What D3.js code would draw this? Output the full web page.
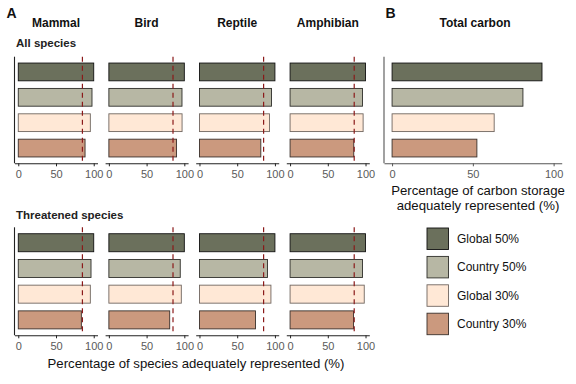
<!DOCTYPE html>
<html lang="en">
<head>
<meta charset="utf-8">
<title>Species and carbon representation</title>
<script src="https://cdn.jsdelivr.net/npm/d3@7"></script>
<style>
  body { margin: 0; background: #fff; }
  text { font-family: "Liberation Sans", Arial, sans-serif; }
</style>
</head>
<body>
<script>
// categories
var taxa = ["Mammal", "Bird", "Reptile", "Amphibian"];
var scenarios = ["Global 50%", "Country 50%", "Global 30%", "Country 30%"];
var groups = ["All species", "Threatened species"];

// % of species adequately represented, one array per taxon (order = scenarios)
var allSpecies = [
  [100, 97.7, 95.5, 88.5],   // Mammal
  [100, 96.9, 97.0, 89.7],   // Bird
  [100, 95.5, 92.8, 81.3],   // Reptile
  [100, 96.0, 96.8, 84.4]    // Amphibian
];
var threatened = [
  [100, 96.4, 95.5, 83.6],
  [100, 94.6, 96.0, 80.6],
  [100, 90.2, 94.7, 74.2],
  [100, 96.0, 98.3, 84.0]
];
// % of carbon storage adequately represented
var carbon = [92.8, 81.0, 63.2, 52.5];
var target = 85;
var xTicks = [0, 50, 100];

var fills = ["#6b705c", "#b7b7a4", "#ffe8d6", "#cb997e"];
var strokes = ["#111111", "#2e2e2a", "#706660", "#3a302b"];

var w = 576, h = 384;
var svg = d3.select("body").append("svg")
  .attr("width", w).attr("height", h);

var rows = [
  {label: groups[0], data: allSpecies, y0: 56.7, y1: 163.3, labelY: 47},
  {label: groups[1], data: threatened, y0: 227.3, y1: 335.3, labelY: 219}
];

var panelLeft = 14.5, panelW = 83, panelStep = 90.6;

function drawAxis(g, x, y1, color) {
  var ax = g.append("g")
    .attr("transform", "translate(0," + y1 + ")")
    .call(d3.axisBottom(x).tickValues(xTicks).tickSize(3).tickSizeOuter(0).tickPadding(4.2));
  ax.select(".domain").attr("stroke", color).attr("stroke-width", 1.1);
  ax.selectAll(".tick line").attr("stroke", color);
  ax.selectAll(".tick text")
    .attr("fill", "#5a5a5a")
    .style("font-size", "11px")
    .style("font-family", "'Liberation Sans', Arial, sans-serif");
}

function drawBars(g, x, y, values) {
  g.selectAll("rect.bar")
    .data(values)
    .enter().append("rect")
    .attr("class", "bar")
    .attr("x", x(0))
    .attr("y", function(d, i) { return y(scenarios[i]); })
    .attr("width", function(d) { return x(d) - x(0); })
    .attr("height", y.bandwidth())
    .attr("fill", function(d, i) { return fills[i]; })
    .attr("stroke", function(d, i) { return strokes[i]; })
    .attr("stroke-width", 0.9);
}

// panel A
svg.append("text").attr("x", 6.5).attr("y", 17.5)
  .style("font-size", "14px").style("font-weight", "bold").attr("fill", "#111").text("A");

rows.forEach(function(row) {
  svg.append("text").attr("x", 16).attr("y", row.labelY)
    .style("font-size", "11.5px").style("font-weight", "bold").attr("fill", "#222")
    .text(row.label);

  var y = d3.scaleBand().domain(scenarios)
    .range([row.y0, row.y1]).paddingInner(0.3).paddingOuter(0.25);

  taxa.forEach(function(t, ti) {
    var left = panelLeft + ti * panelStep;
    var x = d3.scaleLinear().domain([-5, 105]).range([left, left + panelW]);
    var g = svg.append("g");

    drawBars(g, x, y, row.data[ti]);

    g.append("line")
      .attr("x1", x(target)).attr("x2", x(target))
      .attr("y1", row.y0).attr("y2", row.y1)
      .attr("stroke", "#8b1a1a").attr("stroke-width", 1.2)
      .attr("stroke-dasharray", "5,4");

    drawAxis(g, x, row.y1, "#222");
    if (ti === 0) {
      g.append("line").attr("x1", left).attr("x2", left)
        .attr("y1", row.y0).attr("y2", row.y1)
        .attr("stroke", "#222").attr("stroke-width", 1.1);
    }
  });
});

taxa.forEach(function(t, ti) {
  svg.append("text")
    .attr("x", panelLeft + ti * panelStep + panelW / 2).attr("y", 27)
    .attr("text-anchor", "middle")
    .style("font-size", "12px").style("font-weight", "bold").attr("fill", "#111")
    .text(t);
});

svg.append("text").attr("x", 196).attr("y", 368)
  .attr("text-anchor", "middle").style("font-size", "13.2px").attr("fill", "#111")
  .text("Percentage of species adequately represented (%)");

// panel B
svg.append("text").attr("x", 385.5).attr("y", 17.5)
  .style("font-size", "14px").style("font-weight", "bold").attr("fill", "#111").text("B");
svg.append("text").attr("x", 475).attr("y", 27).attr("text-anchor", "middle")
  .style("font-size", "12px").style("font-weight", "bold").attr("fill", "#111")
  .text("Total carbon");

var xB = d3.scaleLinear().domain([-5, 105]).range([384, 561.7]);
var yB = d3.scaleBand().domain(scenarios)
  .range([56.7, 163.3]).paddingInner(0.3).paddingOuter(0.25);
var gB = svg.append("g");
drawBars(gB, xB, yB, carbon);
drawAxis(gB, xB, 163.3, "#555");
gB.append("line").attr("x1", 384).attr("x2", 384)
  .attr("y1", 56.7).attr("y2", 163.3)
  .attr("stroke", "#555").attr("stroke-width", 1.1);

var bTitle = svg.append("text").attr("text-anchor", "middle")
  .style("font-size", "13.2px").attr("fill", "#111");
bTitle.append("tspan").attr("x", 478).attr("y", 195).text("Percentage of carbon storage");
bTitle.append("tspan").attr("x", 478).attr("y", 209.5).text("adequately represented (%)");

// legend
var legend = svg.append("g").attr("transform", "translate(427,228)");
var leg = legend.selectAll("g").data(scenarios).enter().append("g")
  .attr("transform", function(d, i) { return "translate(0," + (i * 28.4) + ")"; });
leg.append("rect").attr("width", 21.5).attr("height", 21.5)
  .attr("fill", function(d, i) { return fills[i]; })
  .attr("stroke", function(d, i) { return strokes[i]; })
  .attr("stroke-width", 0.9);
leg.append("text").attr("x", 30).attr("y", 10.75).attr("dy", "0.36em")
  .style("font-size", "12px").attr("fill", "#111")
  .text(function(d) { return d; });
</script>
</body>
</html>
